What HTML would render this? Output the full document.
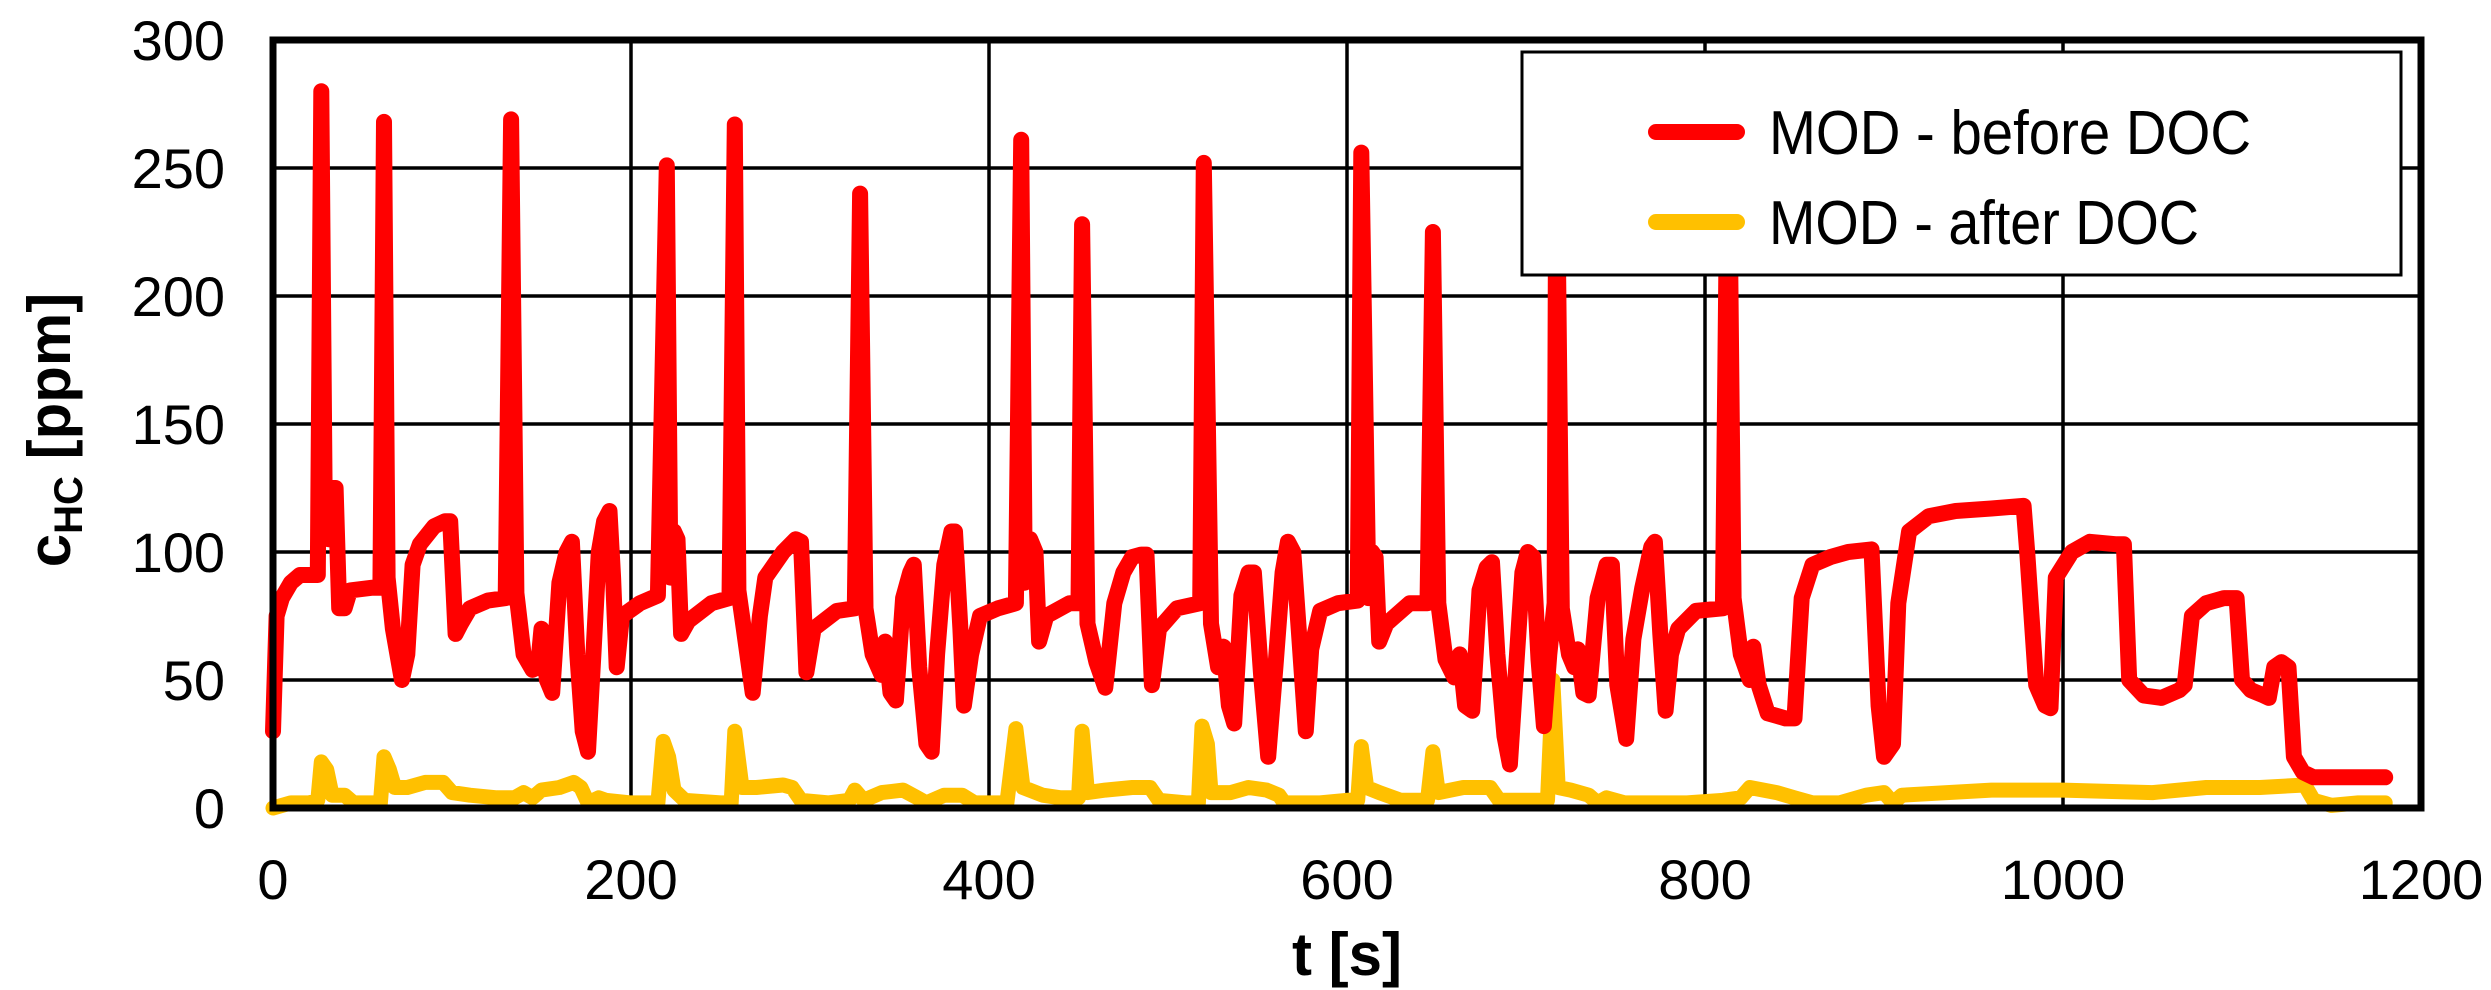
<!DOCTYPE html>
<html><head><meta charset="utf-8"><style>
html,body{margin:0;padding:0;background:#fff;}
svg{display:block;font-family:"Liberation Sans",Arial,sans-serif;}
</style></head><body>
<svg id="s" width="2491" height="990" viewBox="0 0 2491 990" xmlns="http://www.w3.org/2000/svg">
<g id="grid" stroke="#000" stroke-width="3.5"></g>
<polyline id="yel" fill="none" stroke="#FFC000" stroke-width="15" stroke-linejoin="round" stroke-linecap="round"/>
<polyline id="red" fill="none" stroke="#FF0000" stroke-width="16" stroke-linejoin="round" stroke-linecap="round"/>
<rect x="273" y="40" width="2148" height="768" fill="none" stroke="#000" stroke-width="7"/>
<g id="lab" font-size="56" fill="#000"></g>
<text x="1347" y="975" font-size="60" font-weight="bold" text-anchor="middle">t [s]</text>
<text transform="translate(70,430) rotate(-90)" font-size="60" font-weight="bold" text-anchor="middle">c<tspan font-size="40" dy="12">HC</tspan><tspan dy="-12"> [ppm]</tspan></text>
<rect x="1522" y="52" width="879" height="223" fill="#fff" stroke="#000" stroke-width="3"/>
<line x1="1656" y1="132" x2="1737" y2="132" stroke="#FF0000" stroke-width="16" stroke-linecap="round"/>
<line x1="1656" y1="222" x2="1737" y2="222" stroke="#FFC000" stroke-width="16" stroke-linecap="round"/>
<text x="1769" y="154" font-size="62" textLength="482" lengthAdjust="spacingAndGlyphs">MOD - before DOC</text>
<text x="1769" y="244" font-size="62" textLength="430" lengthAdjust="spacingAndGlyphs">MOD - after DOC</text>
</svg>
<script>
var L=273,R=2421,T=40,B=808;
function X(t){return L+t*(R-L)/1200}function Y(v){return B-v*(B-T)/300}
var g=document.getElementById('grid'),lab=document.getElementById('lab'),ns="http://www.w3.org/2000/svg";
function el(p,n,a,txt){var e=document.createElementNS(ns,n);for(var k in a)e.setAttribute(k,a[k]);if(txt!=null)e.textContent=txt;p.appendChild(e);}
for(var v=0;v<=300;v+=50){if(v>0&&v<300)el(g,'line',{x1:L,x2:R,y1:Y(v),y2:Y(v)});el(lab,'text',{x:225,y:Y(v)+20,'text-anchor':'end'},v);}
for(var t=0;t<=1200;t+=200){if(t>0&&t<1200)el(g,'line',{x1:X(t),x2:X(t),y1:T,y2:B});el(lab,'text',{x:X(t),y:899,'text-anchor':'middle'},t);}
var red=[[0,30],[2,75],[5,82],[10,88],[15,91],[25,91],[27,280],[29,110],[31,105],[33,125],[35,125],[37,78],[40,78],[43,85],[55,86],[60,86],[62,268],[64,90],[67,70],[72,50],[75,60],[78,95],[82,103],[90,110],[96,112],[99,112],[102,68],[105,72],[110,78],[120,81],[130,82],[133,269],[136,84],[140,60],[145,54],[148,55],[150,70],[153,50],[156,45],[160,88],[164,100],[167,104],[170,60],[173,30],[176,22],[179,60],[182,100],[185,112],[188,116],[190,90],[192,55],[195,75],[205,80],[215,83],[220,251],[222,90],[224,108],[226,105],[228,68],[232,73],[245,80],[255,82],[258,267],[260,85],[263,70],[268,45],[272,75],[275,90],[285,100],[292,105],[295,104],[298,53],[302,70],[315,77],[325,78],[328,240],[331,78],[335,60],[340,52],[342,65],[345,45],[348,42],[352,82],[356,92],[358,95],[361,55],[365,25],[368,22],[371,60],[375,95],[379,108],[381,108],[384,70],[386,40],[390,60],[395,75],[405,78],[415,80],[418,261],[420,88],[423,105],[426,100],[428,65],[432,75],[445,80],[450,80],[452,228],[455,72],[460,57],[465,47],[470,80],[475,92],[480,98],[485,99],[488,99],[491,48],[495,70],[505,78],[518,80],[520,252],[524,72],[528,55],[531,63],[534,40],[537,33],[541,83],[545,92],[548,92],[552,52],[556,20],[560,55],[564,92],[567,104],[570,100],[573,70],[577,30],[580,62],[585,77],[595,80],[606,81],[608,256],[612,82],[614,100],[616,98],[618,65],[622,72],[635,80],[645,80],[648,225],[651,80],[655,58],[660,51],[663,60],[666,40],[670,38],[674,85],[678,94],[681,96],[684,60],[688,28],[691,17],[695,60],[698,92],[701,100],[704,98],[707,58],[710,32],[713,60],[716,80],[717,270],[720,78],[724,60],[727,55],[729,62],[732,45],[735,44],[740,82],[745,95],[748,95],[751,48],[756,27],[760,66],[765,86],[770,102],[772,104],[775,68],[778,38],[781,60],[785,70],[795,77],[810,78],[813,285],[816,82],[820,60],[825,50],[827,63],[830,48],[835,37],[840,36],[845,35],[850,35],[854,82],[860,95],[870,98],[880,100],[893,101],[897,40],[900,20],[905,25],[908,80],[914,108],[925,114],[940,116],[960,117],[978,118],[980,100],[985,48],[990,40],[993,39],[996,90],[1005,100],[1015,104],[1030,103],[1034,103],[1037,50],[1045,44],[1055,43],[1065,46],[1068,48],[1072,75],[1080,80],[1090,82],[1097,82],[1100,50],[1105,46],[1112,44],[1115,43],[1118,55],[1122,57],[1126,55],[1129,20],[1134,14],[1140,12],[1180,12]];
var yel=[[0,0],[10,2],[20,2],[25,3],[27,18],[30,15],[33,5],[40,5],[45,2],[60,2],[62,20],[65,15],[68,8],[75,8],[85,10],[95,10],[100,6],[110,5],[125,4],[135,4],[140,6],[145,4],[150,7],[160,8],[168,10],[172,8],[176,2],[182,4],[186,3],[200,2],[215,2],[218,26],[221,20],[224,7],[230,3],[250,2],[256,2],[258,30],[262,8],[270,8],[285,9],[290,8],[295,3],[310,2],[322,3],[325,7],[330,3],[340,6],[352,7],[360,4],[365,2],[375,5],[385,5],[392,2],[410,2],[415,31],[419,8],[430,5],[440,4],[450,4],[452,30],[455,6],[465,7],[480,8],[490,8],[495,3],[510,2],[517,2],[519,32],[522,25],[524,6],[535,6],[545,8],[555,7],[562,5],[565,2],[585,2],[600,3],[606,3],[608,24],[611,8],[618,6],[630,3],[645,3],[648,22],[651,6],[665,8],[680,8],[685,3],[700,3],[712,3],[715,50],[718,8],[725,7],[735,5],[740,2],[745,4],[755,2],[770,2],[790,2],[810,3],[820,4],[825,8],[840,6],[850,4],[860,2],[875,2],[890,5],[900,6],[905,2],[910,5],[960,7],[1000,7],[1050,6],[1080,8],[1110,8],[1135,9],[1140,3],[1150,1],[1165,2],[1180,2]];
function pts(a){return a.map(function(p){return X(p[0]).toFixed(1)+','+Y(p[1]).toFixed(1)}).join(' ')}
document.getElementById('red').setAttribute('points',pts(red));
document.getElementById('yel').setAttribute('points',pts(yel));
</script>
</body></html>
